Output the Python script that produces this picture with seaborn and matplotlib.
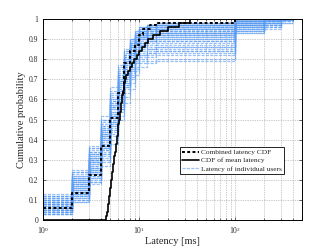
import numpy as np
import pandas as pd
import seaborn as sns
import matplotlib.pyplot as plt
from matplotlib.lines import Line2D

# latencia por usuario: CDF en cada punto de ruptura (ms)
user_breaks = [1, 2, 3, 4, 5, 6, 7, 8, 9, 10, 12, 15, 100, 200, 300, 400]
user_cdfs = [
    [0.03, 0.10, 0.18, 0.27, 0.38, 0.50, 0.58, 0.65, 0.72, 0.76, 0.78, 0.79, 0.94, 0.97, 1.0],
    [0.05, 0.14, 0.22, 0.35, 0.49, 0.62, 0.74, 0.82, 0.88, 0.91, 0.93, 0.95, 0.99, 1.0, 1.0],
    [0.08, 0.18, 0.30, 0.42, 0.56, 0.68, 0.78, 0.85, 0.90, 0.92, 0.94, 0.96, 1.0, 1.0, 1.0],
    [0.11, 0.22, 0.33, 0.48, 0.60, 0.72, 0.80, 0.86, 0.90, 0.93, 0.95, 0.97, 1.0, 1.0, 1.0],
    [0.04, 0.12, 0.25, 0.38, 0.52, 0.64, 0.70, 0.76, 0.80, 0.83, 0.85, 0.86, 0.95, 0.98, 1.0],
    [0.06, 0.16, 0.28, 0.40, 0.50, 0.60, 0.68, 0.74, 0.78, 0.82, 0.84, 0.85, 0.96, 0.99, 1.0],
    [0.09, 0.20, 0.32, 0.45, 0.58, 0.70, 0.82, 0.88, 0.92, 0.95, 0.97, 0.98, 1.0, 1.0, 1.0],
    [0.07, 0.13, 0.19, 0.30, 0.42, 0.55, 0.65, 0.72, 0.80, 0.86, 0.88, 0.89, 0.97, 1.0, 1.0],
    [0.10, 0.24, 0.36, 0.50, 0.64, 0.76, 0.84, 0.90, 0.93, 0.95, 0.96, 0.97, 0.99, 1.0, 1.0],
    [0.05, 0.11, 0.22, 0.32, 0.44, 0.54, 0.63, 0.70, 0.76, 0.80, 0.82, 0.83, 0.93, 0.95, 0.98],
    [0.12, 0.21, 0.29, 0.41, 0.53, 0.66, 0.76, 0.83, 0.87, 0.90, 0.91, 0.92, 0.98, 1.0, 1.0],
    [0.06, 0.15, 0.26, 0.37, 0.47, 0.58, 0.71, 0.79, 0.84, 0.87, 0.89, 0.90, 0.97, 0.99, 1.0],
    [0.08, 0.19, 0.31, 0.46, 0.61, 0.73, 0.81, 0.87, 0.91, 0.94, 0.95, 0.96, 1.0, 1.0, 1.0],
    [0.04, 0.09, 0.20, 0.29, 0.40, 0.52, 0.61, 0.68, 0.74, 0.79, 0.81, 0.82, 0.94, 0.96, 1.0],
    [0.13, 0.25, 0.37, 0.52, 0.66, 0.77, 0.85, 0.90, 0.94, 0.96, 0.97, 0.98, 1.0, 1.0, 1.0],
    [0.07, 0.17, 0.27, 0.39, 0.51, 0.63, 0.73, 0.81, 0.86, 0.89, 0.91, 0.92, 0.98, 1.0, 1.0],
    [0.05, 0.13, 0.23, 0.34, 0.46, 0.57, 0.66, 0.73, 0.78, 0.81, 0.83, 0.84, 0.95, 0.97, 0.99],
    [0.09, 0.21, 0.34, 0.47, 0.59, 0.69, 0.77, 0.84, 0.89, 0.92, 0.93, 0.94, 0.99, 1.0, 1.0],
    [0.03, 0.10, 0.21, 0.36, 0.48, 0.61, 0.69, 0.77, 0.83, 0.86, 0.87, 0.88, 0.96, 0.98, 1.0],
    [0.10, 0.19, 0.29, 0.43, 0.55, 0.67, 0.79, 0.86, 0.91, 0.93, 0.94, 0.95, 0.99, 1.0, 1.0],
    [0.06, 0.14, 0.24, 0.33, 0.45, 0.56, 0.67, 0.75, 0.82, 0.85, 0.86, 0.87, 0.96, 0.98, 1.0],
    [0.08, 0.18, 0.30, 0.44, 0.57, 0.71, 0.80, 0.88, 0.92, 0.94, 0.96, 0.97, 1.0, 1.0, 1.0],
    [0.11, 0.23, 0.35, 0.49, 0.62, 0.74, 0.83, 0.89, 0.93, 0.96, 0.97, 0.98, 1.0, 1.0, 1.0],
    [0.04, 0.12, 0.26, 0.38, 0.50, 0.59, 0.67, 0.71, 0.75, 0.78, 0.79, 0.80, 0.93, 0.96, 0.98],
    [0.07, 0.16, 0.25, 0.36, 0.48, 0.60, 0.70, 0.78, 0.84, 0.88, 0.90, 0.91, 0.97, 0.99, 1.0],
    [0.09, 0.17, 0.31, 0.43, 0.54, 0.65, 0.75, 0.82, 0.87, 0.90, 0.92, 0.93, 0.98, 1.0, 1.0],
    [0.05, 0.15, 0.27, 0.41, 0.53, 0.65, 0.72, 0.79, 0.85, 0.88, 0.89, 0.90, 0.97, 0.98, 1.0],
    [0.12, 0.20, 0.33, 0.45, 0.56, 0.69, 0.78, 0.85, 0.89, 0.91, 0.92, 0.93, 0.99, 1.0, 1.0],
    [0.06, 0.13, 0.24, 0.37, 0.50, 0.62, 0.73, 0.82, 0.88, 0.92, 0.94, 0.95, 0.99, 1.0, 1.0],
    [0.09, 0.18, 0.28, 0.42, 0.55, 0.67, 0.77, 0.84, 0.89, 0.92, 0.93, 0.94, 0.98, 1.0, 1.0],
    [0.04, 0.11, 0.21, 0.33, 0.45, 0.58, 0.70, 0.80, 0.86, 0.90, 0.92, 0.93, 0.98, 0.99, 1.0],
    [0.07, 0.15, 0.29, 0.44, 0.57, 0.69, 0.79, 0.87, 0.92, 0.95, 0.96, 0.97, 1.0, 1.0, 1.0],
    [0.10, 0.22, 0.32, 0.46, 0.60, 0.71, 0.81, 0.86, 0.89, 0.91, 0.92, 0.92, 0.97, 0.99, 1.0],
    [0.05, 0.12, 0.24, 0.35, 0.47, 0.59, 0.68, 0.76, 0.83, 0.87, 0.89, 0.89, 0.96, 0.98, 1.0],
    [0.08, 0.17, 0.30, 0.40, 0.52, 0.63, 0.74, 0.83, 0.89, 0.93, 0.95, 0.96, 0.99, 1.0, 1.0],
    [0.11, 0.20, 0.34, 0.47, 0.58, 0.70, 0.80, 0.87, 0.91, 0.94, 0.95, 0.96, 1.0, 1.0, 1.0],
    [0.06, 0.14, 0.23, 0.36, 0.49, 0.61, 0.72, 0.79, 0.85, 0.88, 0.90, 0.91, 0.97, 0.99, 1.0],
    [0.03, 0.09, 0.19, 0.31, 0.43, 0.55, 0.66, 0.74, 0.80, 0.84, 0.85, 0.86, 0.95, 0.97, 1.0],
    [0.09, 0.19, 0.33, 0.45, 0.59, 0.72, 0.82, 0.88, 0.92, 0.94, 0.96, 0.97, 1.0, 1.0, 1.0],
    [0.07, 0.16, 0.26, 0.40, 0.52, 0.64, 0.75, 0.83, 0.88, 0.91, 0.93, 0.94, 0.99, 1.0, 1.0],
    [0.12, 0.24, 0.36, 0.50, 0.63, 0.75, 0.84, 0.90, 0.94, 0.96, 0.97, 0.97, 1.0, 1.0, 1.0],
    [0.05, 0.13, 0.25, 0.37, 0.49, 0.60, 0.69, 0.75, 0.79, 0.82, 0.83, 0.84, 0.94, 0.97, 0.99],
    [0.08, 0.20, 0.31, 0.43, 0.56, 0.68, 0.78, 0.85, 0.90, 0.93, 0.94, 0.95, 0.99, 1.0, 1.0],
    [0.10, 0.21, 0.30, 0.42, 0.54, 0.66, 0.76, 0.83, 0.88, 0.91, 0.92, 0.93, 0.98, 1.0, 1.0],
]

# CDF combinada
comb_lat = [1, 2, 3, 4, 5, 6, 7, 8, 9, 10, 11, 13, 15, 100, 400]
comb_cdf = [0.06, 0.135, 0.225, 0.37, 0.51, 0.63, 0.78, 0.84, 0.87, 0.92, 0.95, 0.97, 0.98, 1.0, 1.0]

# latencia media por usuario (ms)
mean_lat = [4.55, 4.65, 4.75, 4.8, 4.85, 4.9, 4.95, 5.0, 5.05, 5.1,
            5.2, 5.25, 5.3, 5.4, 5.45, 5.55, 5.6, 5.7, 5.75, 5.85,
            5.9, 6.0, 6.05, 6.1, 6.2, 6.3, 6.35, 6.45, 6.5, 6.6,
            6.7, 6.8, 6.9, 7.0, 7.1, 7.4, 7.7, 8.1, 8.5, 8.9,
            9.5, 10.0, 10.7, 11.5, 12.4, 14.0, 16.5, 20.0, 26.0, 34.0]

rows = []
for i, cdf in enumerate(user_cdfs):
    vals = cdf + [cdf[-1]]
    for x, p in zip(user_breaks, vals):
        rows.append({'user': i, 'lat': x, 'p': p})
users = pd.DataFrame(rows)

sns.set_style('ticks')
plt.rcParams['font.family'] = ['Liberation Serif', 'DejaVu Serif']
plt.rcParams['mathtext.fontset'] = 'custom'
plt.rcParams['mathtext.rm'] = 'Liberation Serif'
plt.rcParams['xtick.direction'] = 'in'
plt.rcParams['ytick.direction'] = 'in'

fig = plt.figure(figsize=(3.34, 2.47), dpi=100)
ax = fig.add_axes([0.129, 0.109, 0.775, 0.814])
ax.set_xscale('log')

blue = '#5a9cf2'
sns.lineplot(data=users, x='lat', y='p', units='user', estimator=None,
             drawstyle='steps-post', color=blue, lw=0.9, alpha=0.62,
             linestyle=(0, (2.5, 1)), ax=ax, legend=False)
sns.lineplot(x=comb_lat, y=comb_cdf, drawstyle='steps-post', color='black',
             lw=1.4, linestyle=(0, (1.5, 1.2)), estimator=None, ax=ax)
sns.ecdfplot(x=mean_lat, color='black', lw=1.2, ax=ax)

ax.set_xlim(1, 500)
ax.set_ylim(0, 1)
ax.set_yticks(np.arange(0, 1.01, 0.1))
ax.set_yticklabels(['0'] + ['%.1f' % v for v in np.arange(0.1, 0.95, 0.1)] + ['1'])
ax.tick_params(which='both', top=True, right=True, labelsize=5.5, length=2.5, width=0.5)
ax.tick_params(which='minor', length=1.5)
ax.grid(True, which='major', color='#999999', ls=(0, (1, 1.5)), lw=0.5)
ax.grid(True, which='minor', axis='x', color='#999999', ls=(0, (1, 1.5)), lw=0.5)
for s in ax.spines.values():
    s.set_linewidth(0.7)
    s.set_color('black')

ax.set_xlabel('Latency [ms]', fontsize=7.5, labelpad=1)
ax.set_ylabel('Cumulative probability', fontsize=7.5, labelpad=2)

handles = [
    Line2D([], [], color='black', lw=1.4, linestyle=(0, (1.5, 1.2))),
    Line2D([], [], color='black', lw=1.2),
    Line2D([], [], color=blue, lw=0.9, alpha=0.6, linestyle=(0, (2.5, 1))),
]
labels = ['Combined latency CDF', 'CDF of mean latency', 'Latency of individual users']
leg = ax.legend(handles, labels, loc='lower right', bbox_to_anchor=(0.93, 0.229),
                fontsize=5.3, frameon=True, fancybox=False, edgecolor='black',
                framealpha=1, borderaxespad=0, handlelength=2.2, handletextpad=0.3,
                labelspacing=0.3, borderpad=0.3)
leg.get_frame().set_linewidth(0.6)

fig.savefig('out.png', dpi=100)
